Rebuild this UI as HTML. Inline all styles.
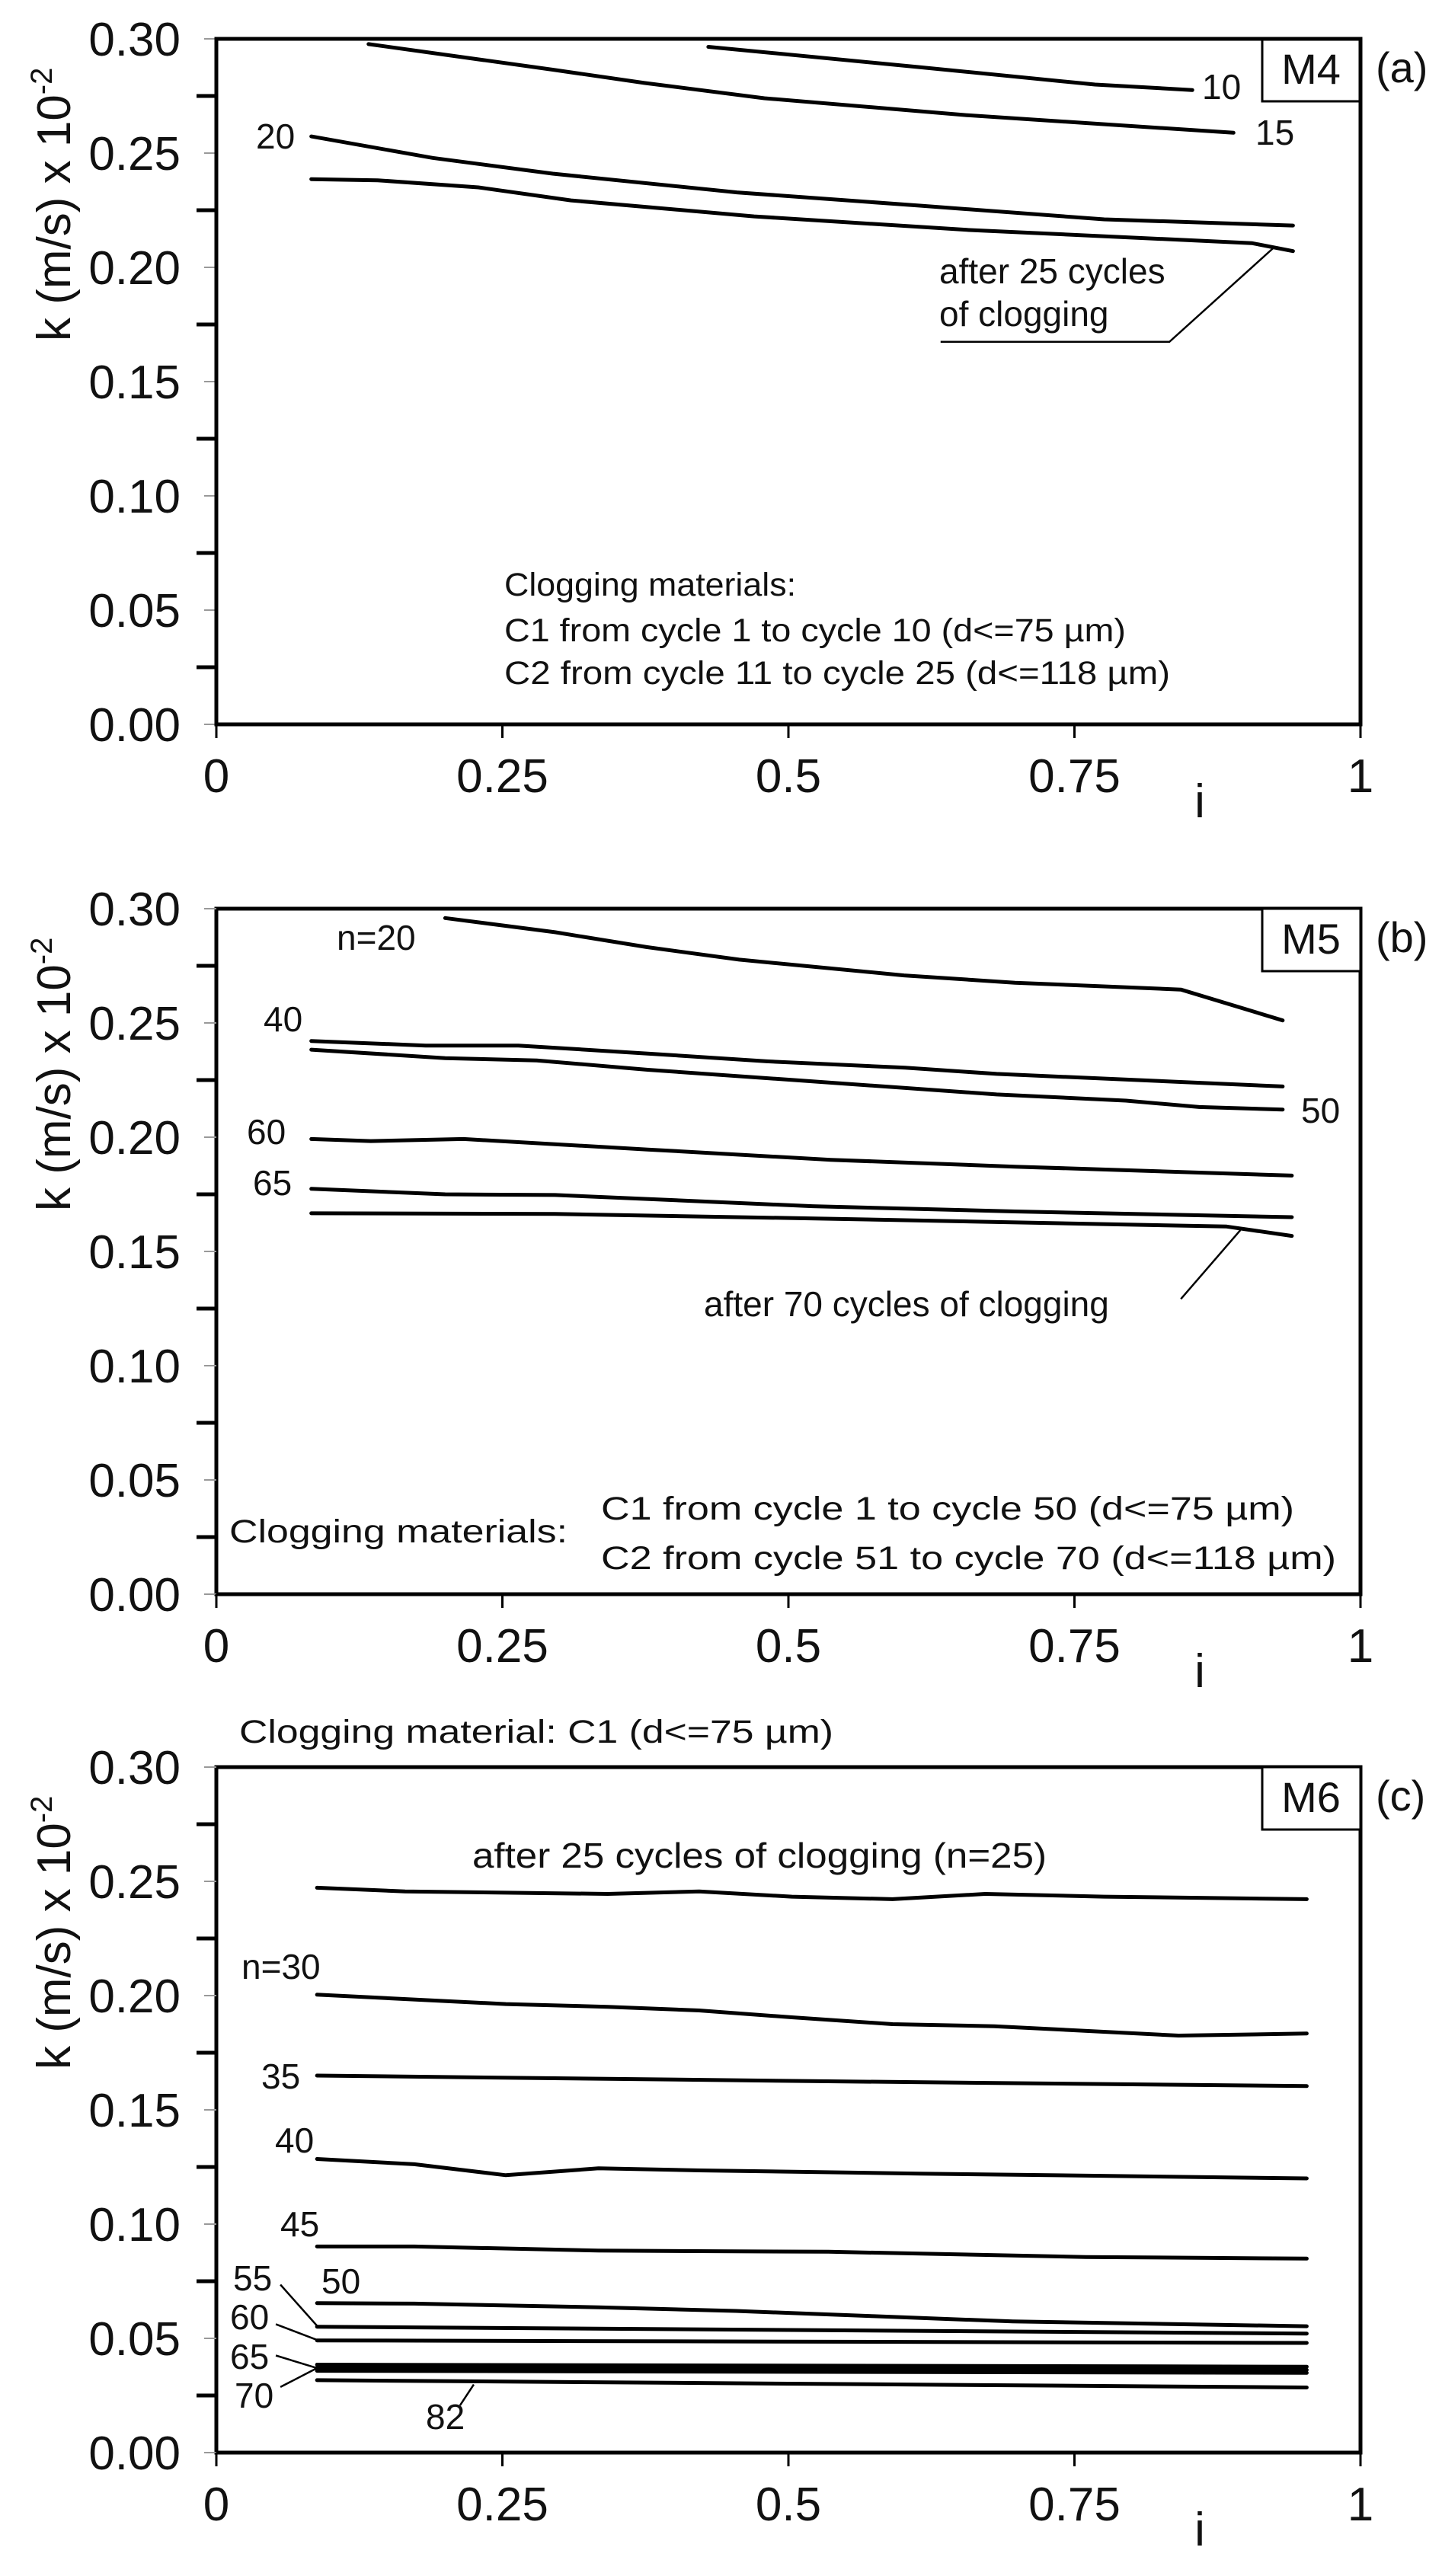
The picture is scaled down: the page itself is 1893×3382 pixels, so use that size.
<!DOCTYPE html>
<html><head><meta charset="utf-8"><style>
html,body{margin:0;padding:0;background:#fff}
svg{display:block}
text{font-family:"Liberation Sans",Arial,sans-serif;fill:#111}
.tk{font-size:62px;text-anchor:end}
.tx{font-size:62px;text-anchor:middle}
.lb{font-size:46px}
.tt{font-size:43px}
.d{fill:none;stroke:#000;stroke-width:5;stroke-linejoin:round;stroke-linecap:round;vector-effect:non-scaling-stroke}
.ld{fill:none;stroke:#000;stroke-width:2.5;vector-effect:non-scaling-stroke}
</style></head><body>
<svg width="1893" height="3382" viewBox="0 0 1893 3382" xmlns="http://www.w3.org/2000/svg">
<defs>
<g id="axes">
  <rect x="284" y="0" width="1502" height="900" fill="none" stroke="#000" stroke-width="5"/>
  <g stroke="#999" stroke-width="2">
    <line x1="268" y1="0" x2="284" y2="0"/><line x1="268" y1="150" x2="284" y2="150"/>
    <line x1="268" y1="300" x2="284" y2="300"/><line x1="268" y1="450" x2="284" y2="450"/>
    <line x1="268" y1="600" x2="284" y2="600"/><line x1="268" y1="750" x2="284" y2="750"/>
    <line x1="268" y1="900" x2="284" y2="900"/>
  </g>
  <g stroke="#000" stroke-width="5">
    <line x1="258" y1="75" x2="284" y2="75"/><line x1="258" y1="225" x2="284" y2="225"/>
    <line x1="258" y1="375" x2="284" y2="375"/><line x1="258" y1="525" x2="284" y2="525"/>
    <line x1="258" y1="675" x2="284" y2="675"/><line x1="258" y1="825" x2="284" y2="825"/>
  </g>
  <g stroke="#000" stroke-width="3">
    <line x1="284" y1="900" x2="284" y2="918"/><line x1="659.5" y1="900" x2="659.5" y2="918"/>
    <line x1="1035" y1="900" x2="1035" y2="918"/><line x1="1410.5" y1="900" x2="1410.5" y2="918"/>
    <line x1="1786" y1="900" x2="1786" y2="918"/>
  </g>
  <text class="tk" x="237" y="22">0.30</text>
  <text class="tk" x="237" y="172">0.25</text>
  <text class="tk" x="237" y="322">0.20</text>
  <text class="tk" x="237" y="472">0.15</text>
  <text class="tk" x="237" y="622">0.10</text>
  <text class="tk" x="237" y="772">0.05</text>
  <text class="tk" x="237" y="922">0.00</text>
  <text class="tx" x="284" y="989">0</text>
  <text class="tx" x="659.5" y="989">0.25</text>
  <text class="tx" x="1035" y="989">0.5</text>
  <text class="tx" x="1410.5" y="989">0.75</text>
  <text class="tx" x="1786" y="989">1</text>
  <text class="tx" x="1575" y="1022">i</text>
  <text transform="translate(92,397) rotate(-90)" style="font-size:62px">k (m/s) x 10<tspan dy="-24" style="font-size:40px">-2</tspan></text>
  <rect x="1657" y="0" width="129" height="82" fill="#fff" stroke="#000" stroke-width="3"/>
</g>
</defs>

<g transform="translate(0,51)">
  <use href="#axes"/>
  <rect x="284" y="0" width="1502" height="900" fill="none" stroke="#000" stroke-width="5"/>
  <text x="1721" y="59" style="font-size:56px" text-anchor="middle">M4</text>
  <text x="1806" y="57" style="font-size:56px">(a)</text>
  <g transform="translate(284,900) scale(1502,-3000)">
    <polyline class="d" points="0.43,0.2965 0.615,0.2876 0.768,0.280 0.853,0.2776"/>
    <polyline class="d" points="0.133,0.2977 0.294,0.2865 0.374,0.2807 0.479,0.274 0.656,0.2666 0.889,0.2589"/>
    <polyline class="d" points="0.083,0.2573 0.189,0.2479 0.294,0.241 0.455,0.2328 0.615,0.227 0.776,0.221 0.941,0.2183"/>
    <polyline class="d" points="0.083,0.2386 0.141,0.2381 0.229,0.235 0.31,0.2293 0.47,0.2223 0.656,0.2164 0.905,0.2106 0.941,0.2071"/>
    <polyline class="ld" points="0.925,0.209 0.833,0.1674 0.633,0.1674"/>
  </g>
  <text class="lb" x="1578" y="79">10</text>
  <text class="lb" x="1648" y="139">15</text>
  <text class="lb" x="336" y="144">20</text>
  <text class="lb" x="1233" y="321">after 25 cycles</text>
  <text class="lb" x="1233" y="377">of clogging</text>
  <text class="tt" x="662" y="731" textLength="383" lengthAdjust="spacingAndGlyphs">Clogging materials:</text>
  <text class="tt" x="662" y="791" textLength="816" lengthAdjust="spacingAndGlyphs">C1 from cycle 1 to cycle 10 (d&lt;=75  µm)</text>
  <text class="tt" x="662" y="847" textLength="874" lengthAdjust="spacingAndGlyphs">C2 from cycle 11 to cycle 25 (d&lt;=118  µm)</text>
</g>

<g transform="translate(0,1193)">
  <use href="#axes"/>
  <text x="1721" y="59" style="font-size:56px" text-anchor="middle">M5</text>
  <text x="1806" y="57" style="font-size:56px">(b)</text>
  <g transform="translate(284,900) scale(1502,-3000)">
    <polyline class="d" points="0.2,0.2959 0.296,0.2897 0.376,0.2832 0.457,0.2777 0.601,0.2708 0.698,0.2676 0.843,0.2646 0.932,0.2511"/>
    <polyline class="d" points="0.083,0.2421 0.183,0.2401 0.264,0.2401 0.377,0.2366 0.481,0.2332 0.602,0.2304 0.682,0.2277 0.932,0.2222"/>
    <polyline class="d" points="0.083,0.2383 0.2,0.2346 0.28,0.2336 0.377,0.2295 0.505,0.225 0.682,0.2187 0.795,0.216 0.859,0.2132 0.932,0.2121"/>
    <polyline class="d" points="0.083,0.1992 0.135,0.1983 0.216,0.1992 0.377,0.1946 0.537,0.1901 0.698,0.1871 0.94,0.1832"/>
    <polyline class="d" points="0.083,0.1774 0.2,0.175 0.296,0.1747 0.521,0.1698 0.698,0.1675 0.94,0.165"/>
    <polyline class="d" points="0.083,0.1667 0.296,0.1664 0.537,0.1643 0.883,0.1609 0.94,0.1568"/>
    <polyline class="ld" points="0.895,0.1593 0.843,0.1292"/>
  </g>
  <text class="lb" x="442" y="54">n=20</text>
  <text class="lb" x="346" y="161">40</text>
  <text class="lb" x="1708" y="281">50</text>
  <text class="lb" x="324" y="309">60</text>
  <text class="lb" x="332" y="376">65</text>
  <text class="lb" x="924" y="535">after 70 cycles of clogging</text>
  <text class="tt" x="301" y="832" textLength="444" lengthAdjust="spacingAndGlyphs">Clogging materials:</text>
  <text class="tt" x="789" y="802" textLength="910" lengthAdjust="spacingAndGlyphs">C1 from cycle 1 to cycle 50 (d&lt;=75  µm)</text>
  <text class="tt" x="789" y="867" textLength="965" lengthAdjust="spacingAndGlyphs">C2 from cycle 51 to cycle 70 (d&lt;=118  µm)</text>
</g>

<text class="tt" x="314" y="2288" textLength="780" lengthAdjust="spacingAndGlyphs">Clogging material: C1 (d&lt;=75 µm)</text>
<g transform="translate(0,2320)">
  <use href="#axes"/>
  <text x="1721" y="59" style="font-size:56px" text-anchor="middle">M6</text>
  <text x="1806" y="57" style="font-size:56px">(c)</text>
  <g transform="translate(284,900) scale(1502,-3000)">
    <polyline class="d" points="0.088,0.2472 0.165,0.2456 0.342,0.2445 0.422,0.2456 0.503,0.2433 0.591,0.2422 0.672,0.2445 0.776,0.2433 0.953,0.2422"/>
    <polyline class="d" points="0.088,0.2004 0.253,0.1963 0.342,0.1951 0.422,0.1935 0.503,0.1905 0.591,0.1875 0.68,0.1866 0.841,0.1825 0.953,0.1834"/>
    <polyline class="d" points="0.088,0.165 0.535,0.1625 0.953,0.1604"/>
    <polyline class="d" points="0.088,0.1285 0.173,0.1262 0.253,0.1214 0.334,0.1244 0.422,0.1235 0.615,0.1221 0.953,0.12"/>
    <polyline class="d" points="0.088,0.0902 0.173,0.0902 0.334,0.0884 0.535,0.0879 0.76,0.0856 0.953,0.0849"/>
    <polyline class="d" points="0.088,0.0654 0.173,0.0652 0.334,0.0636 0.454,0.062 0.575,0.0597 0.696,0.0574 0.953,0.0553"/>
    <polyline class="d" points="0.088,0.0551 0.953,0.0521"/>
    <polyline class="d" points="0.088,0.0491 0.953,0.048"/>
    <polyline class="d" points="0.088,0.0385 0.953,0.0376"/>
    <polyline class="d" points="0.088,0.0372 0.953,0.0362"/>
    <polyline class="d" points="0.088,0.0358 0.953,0.0349"/>
    <polyline class="d" points="0.088,0.0317 0.953,0.0285"/>
    <polyline class="ld" points="0.056,0.0735 0.088,0.0555"/>
    <polyline class="ld" points="0.052,0.0562 0.088,0.0493"/>
    <polyline class="ld" points="0.052,0.0425 0.088,0.037 0.056,0.0287"/>
    <polyline class="ld" points="0.225,0.0298 0.213,0.0207"/>
  </g>
  <text class="lb" x="317" y="278">n=30</text>
  <text class="lb" x="343" y="422">35</text>
  <text class="lb" x="361" y="506">40</text>
  <text class="lb" x="368" y="616">45</text>
  <text class="lb" x="422" y="691">50</text>
  <text class="lb" x="306" y="687">55</text>
  <text class="lb" x="302" y="738">60</text>
  <text class="lb" x="302" y="790">65</text>
  <text class="lb" x="308" y="841">70</text>
  <text class="lb" x="559" y="869">82</text>
  <text class="lb" x="620" y="132" textLength="754" lengthAdjust="spacingAndGlyphs">after 25 cycles of clogging (n=25)</text>
</g>
</svg>
</body></html>
